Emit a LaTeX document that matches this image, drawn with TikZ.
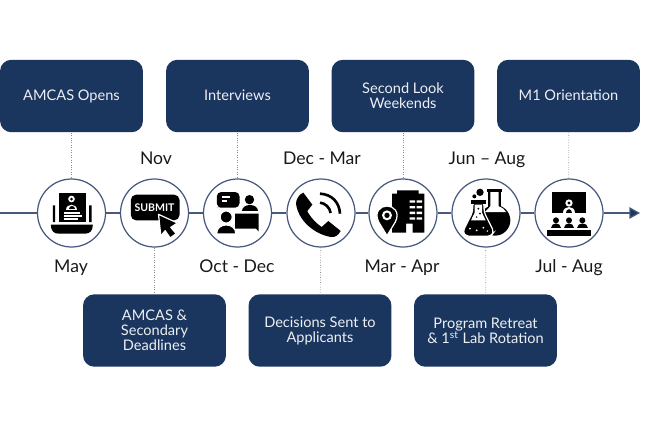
\documentclass[tikz,border=0pt]{standalone}
\usepackage{fontspec}
\setmainfont{Lato}
\usetikzlibrary{arrows.meta}
\definecolor{navy}{HTML}{1A365F}
\definecolor{linec}{HTML}{47597F}
\tikzset{
    mybox/.style = {rectangle, rounded corners=6.5pt, fill=navy, text=white!92!navy, align=center, minimum width=2.86cm, minimum height=1.45cm, inner sep=0pt, font=\fontsize{8.3}{8.5}\selectfont},
    onel/.style = {text height=7pt, text depth=1.8pt},
    mycirc/.style = {circle, draw=linec, line width=0.7pt, fill=white, minimum size=1.36cm, inner sep=0pt},
    mylabel/.style = {font=\fontsize{10}{11}\selectfont, text=black!90, inner sep=0pt, text height=7.2pt, text depth=2pt},
    edgel/.style = {line width=0.7pt, draw=linec},
    edgea/.style = {line width=0.7pt, draw=linec, -{Triangle[length=6pt,width=6.5pt,fill=navy]}},
    edged/.style = {line width=0.4pt, draw=black!45, densely dotted},
    iconb/.style = {fill=black, draw=none},
    iconw/.style = {fill=white, draw=none},
    iconl/.style = {draw=white, line width=0.8pt},
    iconc/.style = {draw=black, line width=1.5pt}
}
\begin{document}
\begin{tikzpicture}[x=0.02cm,y=-0.02cm]
\useasboundingbox (0,0) rectangle (650,427);
\coordinate (st) at (0,213);
\coordinate (en) at (640,213);
% circles
\node[mycirc] at (71.5,213) (may) {};
\node[mycirc] at (154.5,213) (nov) {};
\node[mycirc] at (237.5,213) (oct) {};
\node[mycirc] at (321,213) (dec) {};
\node[mycirc] at (403,213) (mar) {};
\node[mycirc] at (486,213) (jun) {};
\node[mycirc] at (569,213) (jul) {};
% boxes
\node[mybox,onel] at (71.5,96) (amcas) {AMCAS Opens};
\node[mybox,onel] at (237.5,96) (inter) {Interviews};
\node[mybox] at (403,96) (second) {Second Look\\Weekends};
\node[mybox,onel] at (568.5,96) (orient) {M1 Orientation};
\node[mybox] at (154.5,330.5) (second2) {AMCAS \&\\Secondary\\Deadlines};
\node[mybox] at (320,330.5) (decis) {Decisions Sent to\\Applicants};
\node[mybox] at (485.5,330.5) (retreat) {Program Retreat\\\& 1\textsuperscript{st} Lab Rotation};
% dates
\node[mylabel] at (71,268) (lmay) {May};
\node[mylabel] at (156,160) (lnov) {Nov};
\node[mylabel] at (237,268) (loct) {Oct - Dec};
\node[mylabel] at (322,160) (ldec) {Dec - Mar};
\node[mylabel] at (402,268) (lmar) {Mar - Apr};
\node[mylabel] at (487,160) (ljun) {Jun – Aug};
\node[mylabel] at (569,268) (ljul) {Jul - Aug};
% timeline
\draw[edgel] (st) -- (may);
\draw[edgel] (may) -- (nov);
\draw[edgel] (nov) -- (oct);
\draw[edgel] (oct) -- (dec);
\draw[edgel] (dec) -- (mar);
\draw[edgel] (mar) -- (jun);
\draw[edgel] (jun) -- (jul);
\draw[edgea] (jul) -- (en);
% leaders
\draw[edged] (amcas) -- (may);
\draw[edged] (inter) -- (oct);
\draw[edged] (second) -- (mar);
\draw[edged] (orient) -- (jul);
\draw[edged] (nov) -- (second2);
\draw[edged] (dec) -- (decis);
\draw[edged] (jun) -- (retreat);
% laptop
\begin{scope}[shift={(may.center)},scale=1/3,shift={(-214,-128)}]
\fill[iconb] (175,67) rectangle (258,155);
\fill[iconw] (214,86) circle[radius=10];
\fill[iconb] (214,86) circle[radius=4.5];
\fill[iconw] (197,120) .. controls (197,97) and (231,97) .. (231,120) -- cycle;
\fill[iconb] (205,115) .. controls (205,104) and (223,104) .. (223,115) -- cycle;
\draw[iconl] (192,128) -- (238,128) (190,137) -- (245,137) (190,146) -- (232,146);
\fill[iconb] (158,105) rectangle (165,155) (267,105) rectangle (274,155);
\fill[iconb] (152,163) -- (278,163) .. controls (278,180) and (270,190) .. (255,190) -- (175,190) .. controls (160,190) and (152,180) .. (152,163) -- cycle;
\end{scope}
% submit
\begin{scope}[shift={(nov.center)},scale=1/3,shift={(-463,-128)}]
\fill[iconb,rounded corners=3pt] (392,73) rectangle (538,150);
\node[text=white,inner sep=0pt,font=\fontsize{6}{6}\selectfont\bfseries] at (463,112) (sub) {SUBMIT};
\filldraw[fill=black,draw=white,line width=0.7pt,line join=round] (475,132) -- (532,158) -- (512,171) -- (528,190) -- (510,203) -- (495,181) -- (482,197) -- cycle;
\end{scope}
% interview
\begin{scope}[shift={(oct.center)},scale=1/3,shift={(-312,-128)}]
\fill[iconb,rounded corners=2.5pt] (250,65) -- (318,65) -- (318,112) -- (262,112) -- (250,112) -- cycle;
\draw[iconl] (264,80) -- (290,80) (264,92) -- (280,92);
\fill[iconb] (348,88) circle[radius=14];
\fill[iconb] (325,122) .. controls (325,98) and (372,98) .. (372,122) -- cycle;
\fill[iconb] (305,130) -- (375,130) -- (375,183) -- (368,175) -- (305,175) -- cycle;
\filldraw[fill=black,draw=white,line width=0.6pt] (278,140) circle[radius=18];
\filldraw[fill=black,draw=white,line width=0.6pt] (249,191) .. controls (249,155) and (307,155) .. (307,191) -- cycle;
\end{scope}
% phone
\begin{scope}[shift={(dec.center)},scale=1/3,shift={(-363,-128)}]
\fill[iconb,line join=round] (310,67) -- (337,103) -- (322,122) .. controls (330,140) and (350,160) .. (365,170) -- (385,152) -- (422,182) .. controls (415,195) and (405,202) .. (392,200) .. controls (340,190) and (295,150) .. (288,100) .. controls (288,85) and (298,72) .. (310,67) -- cycle;
\draw[iconc] (360,70) .. controls (395,72) and (418,95) .. (420,130);
\draw[iconc] (360,97) .. controls (375,98) and (390,112) .. (392,128);
\end{scope}
% building
\begin{scope}[shift={(mar.center)},scale=1/3,shift={(-608,-128)}]
\fill[iconb] (575,70) -- (590,70) -- (590,60) -- (655,60) -- (655,70) -- (672,70) -- (672,187) -- (637,187) -- (637,160) -- (617,160) -- (617,187) -- (575,187) -- cycle;
\foreach \yy in {90,107,124,141} {
  \fill[iconw] (628,\yy) rectangle (644,\yy+7) (649,\yy) rectangle (665,\yy+7);
}
\filldraw[fill=black,draw=white,line width=0.7pt] (560,196) -- (535,155) .. controls (520,125) and (540,107) .. (560,107) .. controls (580,107) and (600,125) .. (585,155) -- cycle;
\fill[iconw] (560,135) circle[radius=15];
\fill[iconb] (560,135) circle[radius=8];
\end{scope}
% flasks
\begin{scope}[shift={(jun.center)},scale=1/3,shift={(-168,-128)}]
\fill[iconb] (170,55) rectangle (215,65);
\fill[iconb] (175,60) rectangle (212,112);
\fill[iconb] (195,150) circle[radius=46];
\fill[iconw] (181,65) -- (206,65) -- (206,108) .. controls (218,112) and (225,118) .. (228,125) -- (165,125) -- (181,108) -- cycle;
\filldraw[fill=black,draw=white,line width=0.7pt,rounded corners=2pt] (128,95) -- (162,95) -- (162,125) -- (192,185) -- (182,198) -- (108,198) -- (98,185) -- (128,125) -- cycle;
\fill[iconw] (134,103) -- (156,103) -- (156,127) -- (167,150) -- (123,150) -- (134,127) -- cycle;
\fill[iconb] (122,90) rectangle (167,101);
\fill[iconb] (145,115) circle[radius=3] (150,130) circle[radius=3] (140,140) circle[radius=2.5];
\fill[iconw] (120,175) circle[radius=3] (140,180) circle[radius=3] (160,172) circle[radius=3] (172,182) circle[radius=2.5];
\fill[iconb] (150,66) circle[radius=11] (133,78) circle[radius=6];
\end{scope}
% orientation
\begin{scope}[shift={(jul.center)},scale=1/3,shift={(-417,-128)}]
\fill[iconb] (367,65) rectangle (468,127);
\fill[iconw] (417,98) circle[radius=11];
\fill[iconw] (398,127) .. controls (398,105) and (436,105) .. (436,127) -- cycle;
\fill[iconb] (417,98) circle[radius=5];
\fill[iconb] (407,127) .. controls (407,113) and (427,113) .. (427,127) -- cycle;
\foreach \xx in {378,417,457} {
  \fill[iconb] (\xx,150) circle[radius=9];
  \fill[iconb] (\xx-16,172) .. controls (\xx-16,154) and (\xx+16,154) .. (\xx+16,172) -- cycle;
}
\fill[iconb] (352,180) rectangle (482,196);
\end{scope}
\end{tikzpicture}
\end{document}
